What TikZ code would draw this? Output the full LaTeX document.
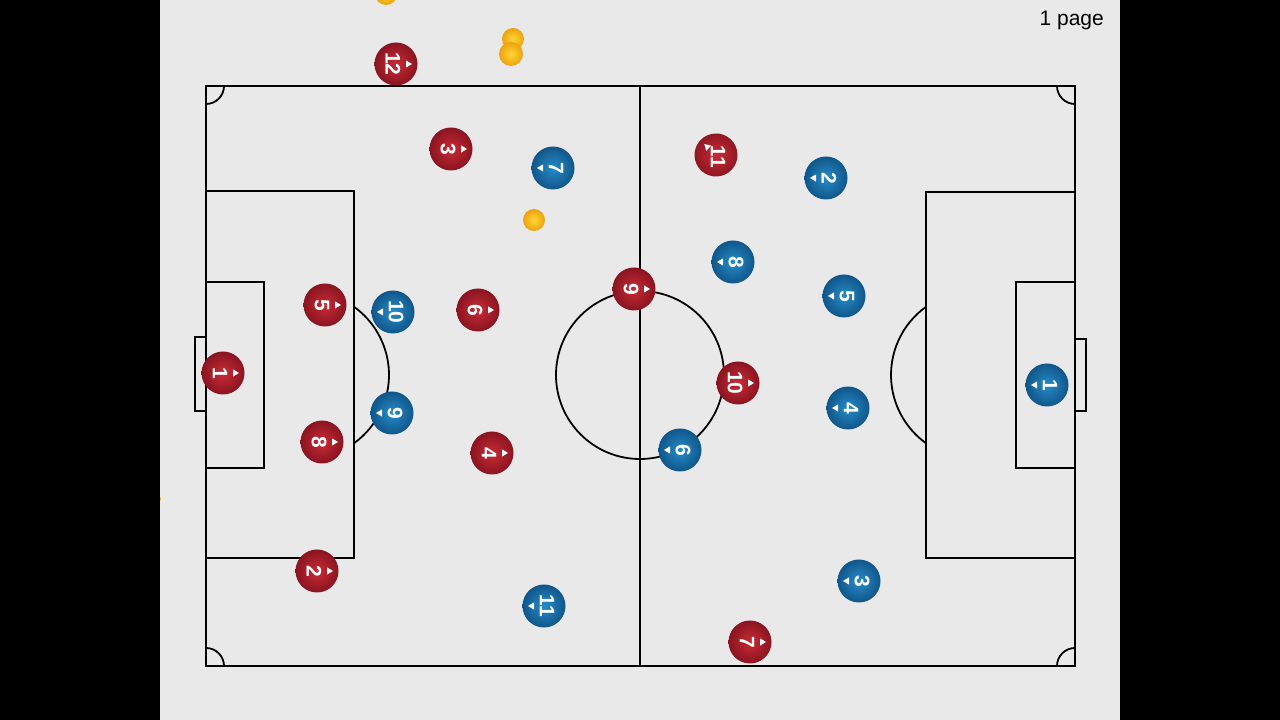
\documentclass[tikz,border=0pt]{standalone}
\usepackage{fontspec}
\setmainfont{Liberation Sans}
\newfontfamily\numfont{Liberation Sans}[BoldFont={Liberation Sans Bold}]
\begin{document}
\begin{tikzpicture}[x=1pt,y=1pt,
  pline/.style={line width=1.8pt, black},
  redp/.style={circle, minimum size=43pt, inner sep=0pt, text=white,
    inner color={rgb,255:red,200;green,44;blue,54}, outer color={rgb,255:red,138;green,20;blue,32}},
  bluep/.style={circle, minimum size=43pt, inner sep=0pt, text=white,
    inner color={rgb,255:red,38;green,140;blue,200}, outer color={rgb,255:red,16;green,86;blue,138}},
  ballst/.style={inner color={rgb,255:red,255;green,214;blue,50}, outer color={rgb,255:red,236;green,162;blue,16}}
]
\useasboundingbox (0,0) rectangle (1280,720);
\fill[black] (0,0) rectangle (1280,720);
\fill[fill={rgb,255:red,233;green,233;blue,233}] (160,0) rectangle (1120,720);

% balls
\begin{scope}
\clip (160,0) rectangle (1120,720);
\shade[ballst] (386,726) circle (11);
\shade[ballst] (513,681) circle (11);
\shade[ballst] (511,666) circle (12);
\shade[ballst] (534,500) circle (11);
\shade[ballst] (156,221) circle (5);
\end{scope}

% pitch
\draw[pline] (206,54) rectangle (1075,634);
\draw[pline] (640,54) -- (640,634);
\draw[pline] (640,345) circle (84);
% left side
\draw[pline] (206,529) -| (354,162) -- (206,162);
\draw[pline] (206,438) -| (264,252) -- (206,252);
\draw[pline] (206,383) -| (195,309) -- (206,309);
\draw[pline] ([shift={(-54.3:84)}]305,345) arc (-54.3:54.3:84);
% right side
\draw[pline] (1075,528) -| (926,162) -- (1075,162);
\draw[pline] (1075,438) -| (1016,252) -- (1075,252);
\draw[pline] (1075,381) -| (1086,309) -- (1075,309);
\draw[pline] ([shift={(125.7:84)}]975,345) arc (125.7:234.3:84);
% corners
\draw[pline] (224,634) arc (0:-90:18);
\draw[pline] (1057,634) arc (180:270:18);
\draw[pline] (206,72) arc (90:0:18);
\draw[pline] (1057,54) arc (180:90:18);

\newcommand\plr[6]{%
  \node[#4, rotate=#6-90] (#1) at (#2,#3) {};
  \begin{scope}[shift={(#1.center)}, rotate=#6]
    \node[rotate=-90, text=white, inner sep=0pt] (#1t) at (-3,0)
      {\numfont\bfseries\fontsize{21}{21}\selectfont #5};
    \fill[white] (16,0) -- (10,3.6) -- (10,-3.6) -- cycle;
  \end{scope}}

% red team
\plr{r12}{396}{656}{redp}{12}{0}
\plr{r3}{451}{571}{redp}{3}{0}
\plr{r5}{325}{415}{redp}{5}{0}
\plr{r6}{478}{410}{redp}{6}{0}
\plr{r9}{634}{431}{redp}{9}{0}
\plr{r1}{223}{347}{redp}{1}{0}
\plr{r8}{322}{278}{redp}{8}{0}
\plr{r4}{492}{267}{redp}{4}{0}
\plr{r2}{317}{149}{redp}{2}{0}
\plr{r10}{738}{337}{redp}{10}{0}
\plr{r11}{716}{565}{redp}{11}{137}
\plr{r7}{750}{78}{redp}{7}{0}
% blue team
\plr{b7}{553}{552}{bluep}{7}{180}
\plr{b2}{826}{542}{bluep}{2}{180}
\plr{b8}{733}{458}{bluep}{8}{180}
\plr{b5}{844}{424}{bluep}{5}{180}
\plr{b10}{393}{408}{bluep}{10}{180}
\plr{b9}{392}{307}{bluep}{9}{180}
\plr{b6}{680}{270}{bluep}{6}{180}
\plr{b4}{848}{312}{bluep}{4}{180}
\plr{b1}{1047}{335}{bluep}{1}{180}
\plr{b3}{859}{139}{bluep}{3}{180}
\plr{b11}{544}{114}{bluep}{11}{180}

\node[anchor=east, font=\fontsize{21}{24}\selectfont, inner sep=0pt] (pg) at (1104,700) {1 page};
\end{tikzpicture}
\end{document}
